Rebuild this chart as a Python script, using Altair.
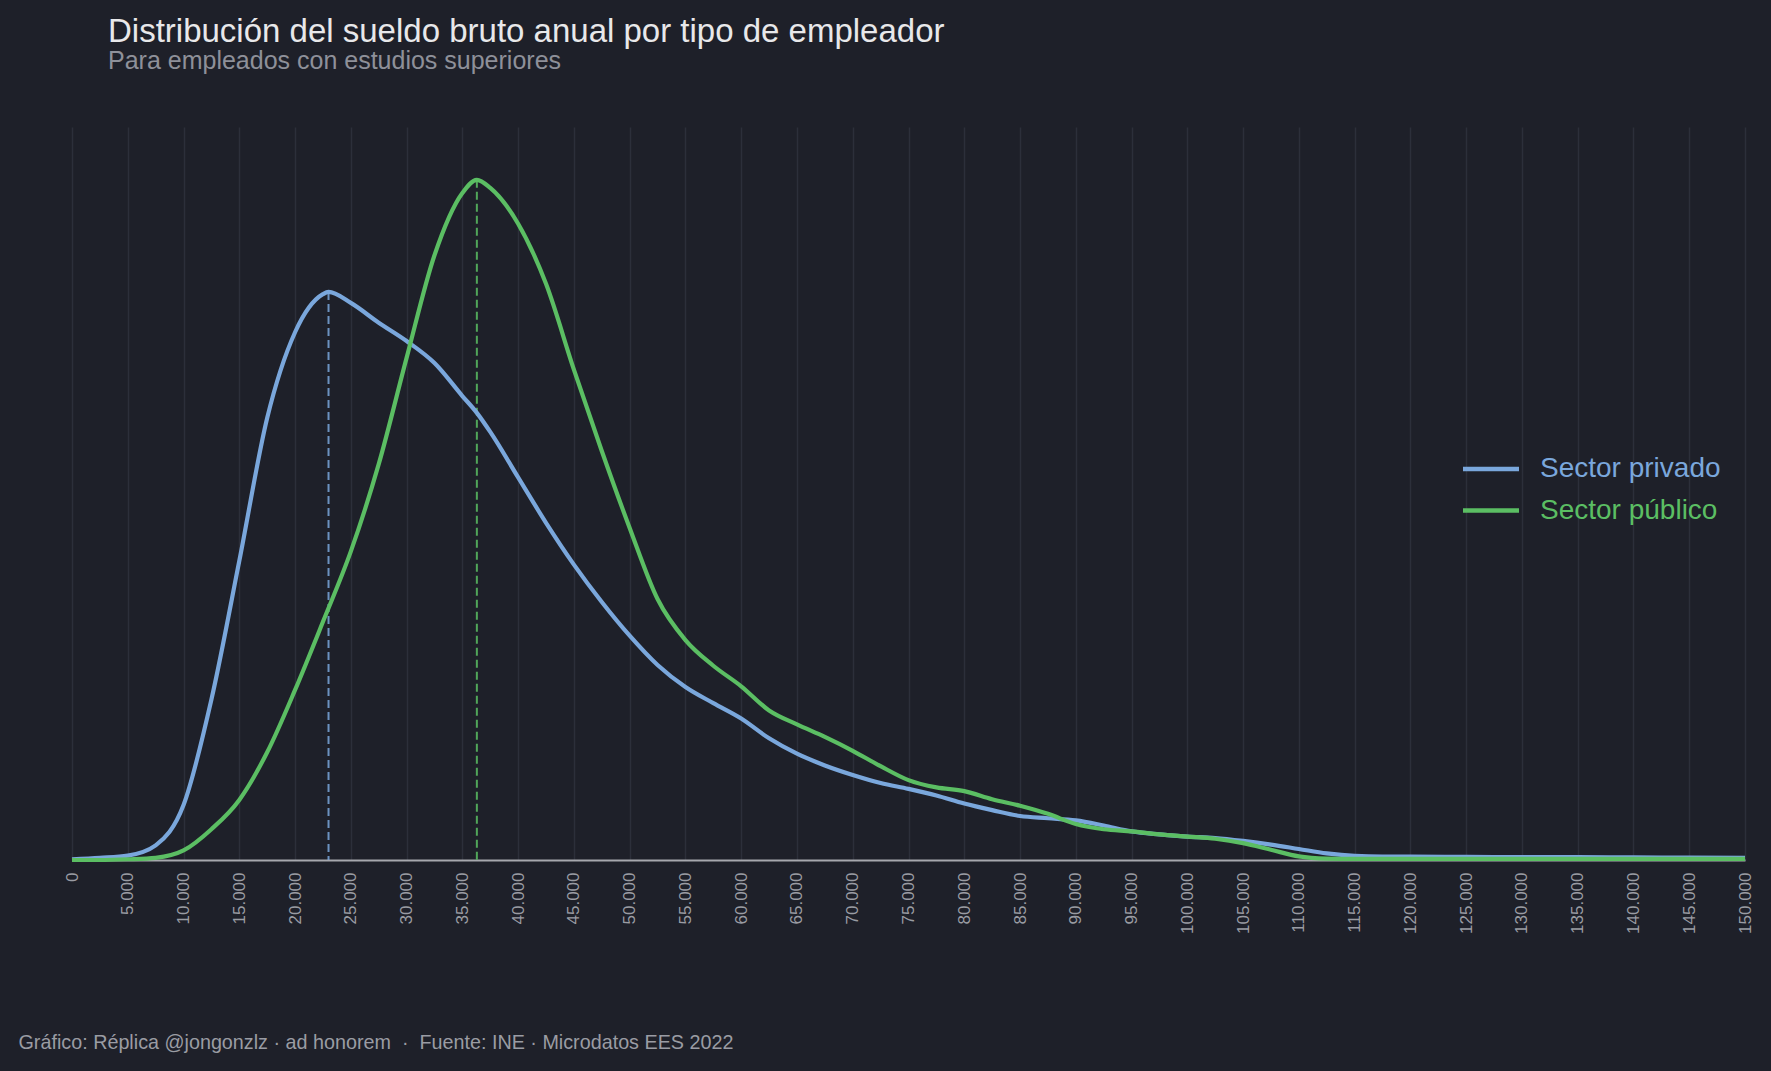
import altair as alt
import pandas as pd

# ---- data (density, expressed as % of plot height) ----
series_names = ["Sector privado", "Sector público"]

privado_x = [0, 2500, 5000, 7500, 10000, 12500, 15000, 17500, 20000, 22500, 23000,
             25000, 27500, 30000, 32500, 35000, 36300, 37500, 40000, 42500, 45000,
             47500, 50000, 52500, 55000, 57500, 60000, 62500, 65000, 67500, 70000,
             72500, 75000, 77500, 80000, 82500, 85000, 87500, 90000, 92500, 95000,
             97500, 100000, 102500, 105000, 107500, 110000, 112500, 115000, 117500,
             120000, 125000, 130000, 135000, 140000, 145000, 150000]
privado_y = [0.1, 0.3, 0.6, 2.0, 7.5, 21.9, 40.8, 60.3, 72.0, 77.2, 77.5,
             76.0, 73.3, 70.8, 67.8, 63.3, 61.0, 58.4, 52.2, 46.0, 40.3,
             35.2, 30.6, 26.6, 23.6, 21.4, 19.3, 16.6, 14.5, 12.9, 11.6,
             10.5, 9.7, 8.8, 7.7, 6.8, 6.0, 5.7, 5.4, 4.7, 3.9,
             3.5, 3.2, 3.0, 2.6, 2.1, 1.5, 0.9, 0.55, 0.45,
             0.45, 0.42, 0.4, 0.38, 0.35, 0.32, 0.3]

publico_x = [0, 2500, 5000, 7500, 10000, 12500, 15000, 17500, 20000, 22500, 25000,
             27500, 30000, 32500, 35000, 36300, 37500, 40000, 42500, 45000, 47500,
             50000, 52500, 55000, 57500, 60000, 62500, 65000, 67500, 70000, 72500,
             75000, 77500, 80000, 82500, 85000, 87500, 90000, 92500, 95000, 97500,
             100000, 102500, 105000, 107500, 110000, 112500, 115000, 120000, 130000,
             140000, 150000]
publico_y = [0.0, 0.0, 0.1, 0.3, 1.3, 4.2, 8.2, 14.7, 23.2, 32.5, 42.1,
             54.0, 68.5, 82.5, 91.0, 92.8, 91.7, 86.8, 78.6, 66.9, 55.8,
             45.3, 35.6, 30.0, 26.5, 23.7, 20.4, 18.5, 16.8, 14.9, 12.8,
             10.9, 9.9, 9.4, 8.3, 7.4, 6.3, 4.9, 4.2, 3.9, 3.5,
             3.2, 2.9, 2.3, 1.4, 0.5, 0.2, 0.15, 0.15, 0.15,
             0.15, 0.15]

tick_values = list(range(0, 150001, 5000))
line_colors = ["#7aa7dc", "#5bbe63"]

# ---- tables ----
df = pd.concat([
    pd.DataFrame({"sueldo": privado_x, "densidad": privado_y, "serie": series_names[0]}),
    pd.DataFrame({"sueldo": publico_x, "densidad": publico_y, "serie": series_names[1]}),
], ignore_index=True)

peaks = df.loc[df.groupby("serie")["densidad"].idxmax()].reset_index(drop=True)
legend_df = pd.DataFrame({"serie": series_names})

BG = "#1e2029"
GRID = "#2c2f3a"
MUTED = "#9a9ca3"
FONT = "Liberation Sans"

footer = "Gráfico: Réplica @jongonzlz · ad honorem \u00a0·\u00a0 Fuente: INE · Microdatos EES 2022"

x_enc = alt.X(
    "sueldo:Q",
    scale=alt.Scale(domain=[0, 150000], nice=False, zero=True),
    axis=alt.Axis(
        values=tick_values,
        labelExpr="replace(format(datum.value, ','), ',', '.')",
        labelAngle=270,
        labelFontSize=17,
        labelColor=MUTED,
        labelFont=FONT,
        labelPadding=12,
        labelOverlap=False,
        ticks=False,
        domain=True,
        domainColor="#a6a7ad",
        domainWidth=2,
        grid=True,
        gridColor=GRID,
        gridWidth=1.5,
        title=footer,
        titleFont=FONT,
        titleFontSize=19.75,
        titleFontWeight="normal",
        titleColor=MUTED,
        titleAlign="left",
        titleBaseline="middle",
        titleAngle=0,
        titleX=-54,
        titleY=182,
    ),
)
y_enc = alt.Y("densidad:Q", scale=alt.Scale(domain=[0, 100], nice=False), axis=None)

color_scale = alt.Scale(domain=series_names, range=line_colors)
color_enc = alt.Color("serie:N", scale=color_scale, legend=None)

lines = alt.Chart(df).mark_line(strokeWidth=4.2, interpolate="monotone").encode(
    x=x_enc, y=y_enc, color=color_enc,
)

rules = alt.Chart(peaks).mark_rule(strokeDash=[8, 4], strokeWidth=2, opacity=0.85).encode(
    x="sueldo:Q",
    y=y_enc,
    y2=alt.datum(0),
    color=color_enc,
)

# manual legend (coloured labels)
legend_y = alt.Y(
    "serie:N",
    scale=alt.Scale(type="point", domain=series_names, range=[342, 383.5], padding=0),
    axis=None,
)
legend_sym = alt.Chart(legend_df).mark_rule(strokeWidth=4.5).encode(
    x=alt.value(1391), x2=alt.value(1447), y=legend_y, color=color_enc,
)
legend_txt = alt.Chart(legend_df).mark_text(
    align="left", baseline="middle", fontSize=28, font=FONT
).encode(
    x=alt.value(1468), y=legend_y, text="serie:N", color=color_enc,
)

chart = (
    alt.layer(rules, lines, legend_sym, legend_txt)
    .resolve_scale(y="independent")
    .properties(
        width=1673,
        height=733,
        autosize=alt.AutoSizeParams(type="none"),
        padding={"left": 72, "top": 127, "right": 26, "bottom": 211},
        background=BG,
        title=alt.TitleParams(
            text="Distribución del sueldo bruto anual por tipo de empleador",
            subtitle="Para empleados con estudios superiores",
            anchor="start",
            frame="group",
            dx=36,
            offset=53,
            font=FONT,
            fontSize=33,
            fontWeight="normal",
            color="#e8e8ea",
            subtitleFont=FONT,
            subtitleFontSize=25,
            subtitleColor="#8e9099",
            subtitlePadding=0,
        ),
    )
    .configure_view(stroke=None)
)

chart.save("out.html", embed_options={"renderer": "svg", "actions": False})
